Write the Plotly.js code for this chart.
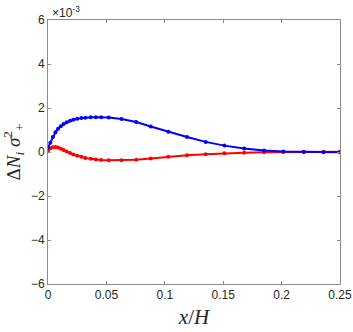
<!DOCTYPE html>
<html>
<head>
<meta charset="utf-8">
<script src="https://cdn.plot.ly/plotly-3.0.1.min.js"></script>
<style>
  body { margin: 0; padding: 0; background: #fff; }
  #plot { width: 353px; height: 332px; }
</style>
</head>
<body>
<div id="plot"></div>
<script>
// x/H positions of the samples
var xPos = [0, 0.002, 0.0042, 0.0064, 0.0086, 0.011, 0.0134, 0.016, 0.0189, 0.0217,
            0.025, 0.0286, 0.032, 0.0366, 0.041, 0.0455, 0.052, 0.063, 0.0755, 0.088,
            0.103, 0.119, 0.135, 0.151, 0.168, 0.185, 0.2015, 0.219, 0.236, 0.25];

// values in units of 1e-3
var blueVals = [0.2, 0.42, 0.68, 0.9, 1.06, 1.17, 1.27, 1.35, 1.42, 1.47,
                1.51, 1.54, 1.56, 1.575, 1.58, 1.58, 1.57, 1.5, 1.36, 1.16,
                0.92, 0.68, 0.46, 0.29, 0.16, 0.07, 0.02, 0.0, -0.01, -0.01];

var redVals = [0.05, 0.17, 0.22, 0.23, 0.2, 0.15, 0.09, 0.02, -0.05, -0.11,
               -0.17, -0.22, -0.27, -0.31, -0.34, -0.36, -0.37, -0.37, -0.35, -0.3,
               -0.22, -0.15, -0.1, -0.06, -0.03, -0.01, 0.0, 0.01, 0.01, 0.01];

var yTicks = [-6, -4, -2, 0, 2, 4, 6];
var xTicks = [0, 0.05, 0.1, 0.15, 0.2, 0.25];
var xTickText = ["0", "0.05", "0.1", "0.15", "0.2", "0.25"];

var red = {
    x: xPos, y: redVals,
    type: "scatter", mode: "lines+markers",
    line: {color: "#ff0000", width: 2},
    marker: {color: "#ff0000", size: 4},
    hoverinfo: "skip"
};
var blue = {
    x: xPos, y: blueVals,
    type: "scatter", mode: "lines+markers",
    line: {color: "#0000ff", width: 2},
    marker: {color: "#0000ff", size: 4},
    hoverinfo: "skip"
};

var tickFont = {family: "Liberation Sans, Arial, sans-serif", size: 12, color: "#262626"};
var mathFont = {family: "Liberation Serif, DejaVu Serif, serif", size: 19, color: "#262626"};

var layout = {
    width: 353, height: 332,
    margin: {l: 48, r: 13, t: 20, b: 48},
    paper_bgcolor: "#fff", plot_bgcolor: "#fff",
    showlegend: false,
    xaxis: {
        range: [0, 0.25],
        tickvals: xTicks, ticktext: xTickText,
        ticks: "inside", ticklen: 3, tickcolor: "#8c8c8c",
        showline: true, linecolor: "#8c8c8c", linewidth: 1, mirror: "ticks",
        showgrid: false, zeroline: false,
        tickfont: tickFont,
        title: {text: "<i>x</i>/<i>H</i>", font: {family: mathFont.family, size: 21, color: "#262626"}, standoff: 7}
    },
    yaxis: {
        range: [-6, 6],
        tickvals: yTicks,
        ticks: "inside", ticklen: 3, tickcolor: "#8c8c8c",
        showline: true, linecolor: "#8c8c8c", linewidth: 1, mirror: "ticks",
        showgrid: false, zeroline: false,
        tickfont: tickFont,
        title: {text: "Δ<i>N<sub>i</sub></i>&nbsp;<i>σ</i><sup>2</sup><sub>+</sub>", font: mathFont, standoff: 8}
    },
    annotations: [{
        xref: "paper", yref: "paper", x: 0, y: 1,
        xanchor: "left", yanchor: "bottom", yshift: -2, xshift: 2,
        text: "×10<sup>-3</sup>", showarrow: false,
        font: {family: "Liberation Sans, Arial, sans-serif", size: 12, color: "#262626"}
    }]
};

Plotly.newPlot("plot", [red, blue], layout, {displayModeBar: false, staticPlot: true});
</script>
</body>
</html>
